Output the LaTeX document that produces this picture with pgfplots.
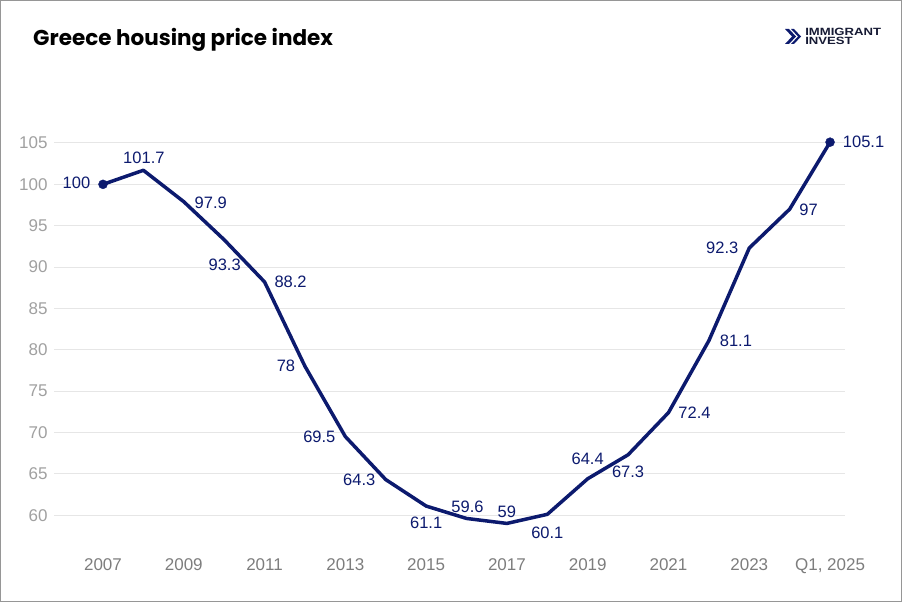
\documentclass[border=0pt]{standalone}
\usepackage{fontspec}
\setmainfont{Liberation Sans}
\newfontfamily\titlefont{Poppins}
\usepackage{pgfplots}
\usepackage{pgfplotstable}
\pgfplotsset{compat=1.18}

\definecolor{navy}{RGB}{12,26,110}
\definecolor{ylab}{RGB}{160,160,160}
\definecolor{xlab}{RGB}{125,125,125}
\definecolor{gridgray}{RGB}{230,230,230}
\definecolor{framegray}{RGB}{150,150,150}
\definecolor{logoink}{RGB}{22,26,52}

% index (0 = 2007 ... 18 = Q1 2025), value, label offsets in pt
\pgfplotstableread{
x  y      dx    dy
0  100    -26.5  2
1  101.7   0.5  12
2  97.9   27    -1
3  93.3    0.5 -25
4  88.2   26     0
5  78    -19     0
6  69.5  -26     0
7  64.3  -26.5   0
8  61.1    0   -17
9  59.6    1    12
10 59      0    12
11 60.1    0   -18
12 64.4    0    20
13 67.3    0   -17
14 72.4   26     0
15 81.1   27     0
16 92.3  -27     0
17 97     19    -1
18 105.1  33.5   0
}\hpi

\begin{document}
\begin{tikzpicture}[x=1pt,y=1pt]
\draw[framegray, line width=1pt] (0.5pt,0.5pt) rectangle (901.5pt,601.5pt);

\node[anchor=base west, inner sep=0, font=\titlefont\bfseries\fontsize{21.5}{24}\selectfont]
  at (33pt,556pt) {Greece housing price index};

% logo
\fill[navy] (785pt,573pt) -- (789pt,573pt) -- (796pt,565.5pt) -- (789pt,558pt) -- (785pt,558pt) -- (792pt,565.5pt) -- cycle;
\fill[navy] (791pt,573pt) -- (794pt,573pt) -- (801pt,565.5pt) -- (794pt,558pt) -- (791pt,558pt) -- (798pt,565.5pt) -- cycle;
\node[anchor=north west, inner sep=0, xscale=1.25, text=logoink, align=left,
  font=\bfseries\fontsize{10.5}{9}\selectfont]
  at (805pt,574pt) {IMMIGRANT\\INVEST};

\begin{axis}[
  at={(54pt,45.5pt)}, anchor=south west,
  scale only axis, width=791pt, height=413.5pt,
  xmin=-1.213, xmax=18.37, ymin=55, ymax=105,
  axis line style={draw=none},
  major tick length=0pt,
  ytick={60,65,...,105},
  xtick={0,2,...,18},
  xticklabels={2007,2009,2011,2013,2015,2017,2019,2021,2023,{Q1, 2025}},
  ymajorgrids,
  grid style={gridgray, line width=1pt},
  /pgf/number format/assume math mode=true,
  yticklabel style={text=ylab, font=\fontsize{17}{20}\selectfont, xshift=-3pt},
  xticklabel style={text=xlab, font=\fontsize{17}{20}\selectfont, yshift=1.5pt},
  clip=false,
]
\addplot[navy, line width=3.5pt, line join=round, mark=none,
  nodes near coords,
  visualization depends on={\thisrow{dx}\as\labdx},
  visualization depends on={\thisrow{dy}\as\labdy},
  nodes near coords style={anchor=center, inner sep=0pt, text=navy,
    font=\fontsize{16.5}{19}\selectfont, xshift=\labdx pt, yshift=\labdy pt},
] table[x=x, y=y] {\hpi};
\addplot[navy, draw=none, mark=*, mark size=4.5pt, mark indices={1,19}]
  table[x=x, y=y] {\hpi};
\end{axis}
\end{tikzpicture}
\end{document}
